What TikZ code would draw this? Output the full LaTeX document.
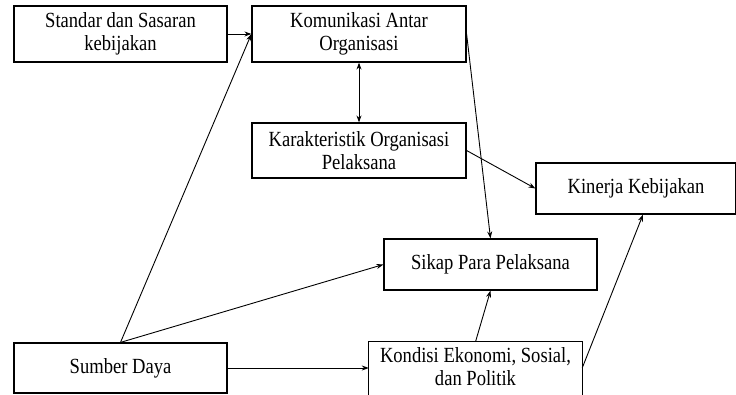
\documentclass[tikz,border=0pt]{standalone}
\usepackage{fontspec}
\setmainfont{Liberation Serif}[FakeStretch=0.86]
\usetikzlibrary{arrows.meta}
\begin{document}
\begin{tikzpicture}[x=1pt,y=-1pt,
  boxtext/.style={rectangle,align=center,inner sep=0pt,
    font=\fontsize{21.6}{23.5}\selectfont},
  box/.style={boxtext,draw,line width=1.2pt},
  frame/.style={line width=1.2pt},
  tip/.tip={Stealth[length=7pt,width=5pt]},
  arr/.style={line width=0.9pt,-tip},
  darr/.style={line width=0.9pt,tip-tip}]
\useasboundingbox (0,0) rectangle (736,395);
\clip (0,0) rectangle (736,395);
\node[box,minimum width=213pt,minimum height=56pt] (std) at (120.5,34) {Standar dan Sasaran\\kebijakan};
\node[box,minimum width=214pt,minimum height=56pt] (kom) at (359,34) {Komunikasi Antar\\Organisasi};
\node[box,minimum width=214pt,minimum height=55pt] (kar) at (359,150.5) {Karakteristik Organisasi\\Pelaksana};
\node[box,minimum width=200pt,minimum height=51pt] (kin) at (636,188.5) {Kinerja Kebijakan};
\node[box,minimum width=213pt,minimum height=51pt] (sik) at (490.5,264.5) {Sikap Para Pelaksana};
\node[box,minimum width=213pt,minimum height=50pt] (sum) at (120.5,368) {Sumber Daya};
\node[boxtext,minimum width=213pt,minimum height=49pt] (kon) at (475.5,366.5) {Kondisi Ekonomi, Sosial,\\dan Politik};
\draw[frame] ([yshift=-12pt]kon.south west) -- (kon.north west) -- (kon.north east) -- ([yshift=-12pt]kon.south east);
\draw[arr] (std.east) -- (kom.west);
\draw[arr] (sum.north) -- (kom.west);
\draw[arr] (sum.north) -- (sik.west);
\draw[darr] (kom.south) -- (kar.north);
\draw[arr] (kom.east) -- (sik.north);
\draw[arr] (kar.east) -- (kin.west);
\draw[arr] (kon.north) -- (sik.south);
\draw[arr] ([yshift=-1.5pt]kon.east) -- ([xshift=7pt]kin.south);
\draw[arr] (sum.east) -- ([yshift=-1.5pt]kon.west);
\end{tikzpicture}
\end{document}
